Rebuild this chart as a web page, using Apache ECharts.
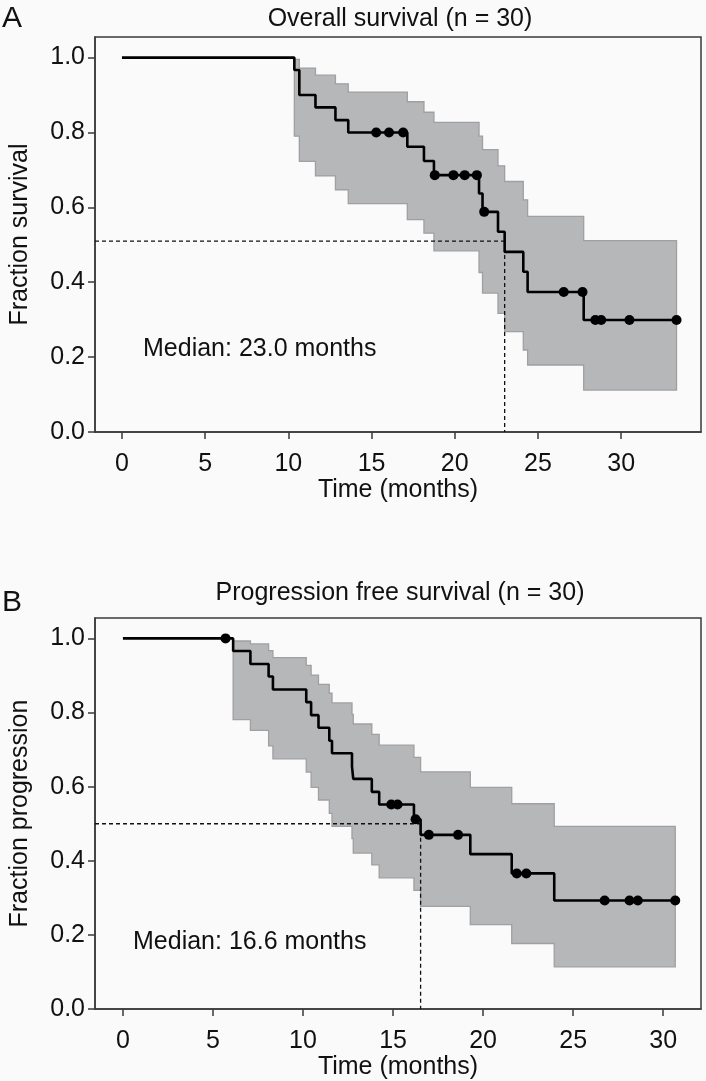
<!DOCTYPE html>
<html><head><meta charset="utf-8">
<script src="https://cdn.jsdelivr.net/npm/echarts@6/dist/echarts.min.js"></script>
<style>html,body{margin:0;padding:0;background:#fafafa;}#c{width:706px;height:1081px;}</style>
</head><body><div id="c"></div>
<script>
// ---------- Panel A: Overall survival ----------
const osTimes = [0, 10.36, 10.66, 11.63, 12.83, 13.6, 17.15, 18.15, 18.75, 21.46, 21.67, 22.6, 23.0, 24.12, 24.38, 27.75, 33.33];
const osSurv  = [1.0, 0.967, 0.900, 0.867, 0.833, 0.800, 0.762, 0.724, 0.686, 0.637, 0.588, 0.535, 0.481, 0.428, 0.374, 0.299, 0.299];
const osBandTimes = [10.36, 10.66, 11.63, 12.83, 13.6, 17.15, 18.15, 18.75, 21.46, 21.67, 22.6, 23.0, 24.12, 24.38, 27.75, 33.33];
const osUpper = [0.995, 0.972, 0.953, 0.930, 0.908, 0.882, 0.854, 0.827, 0.790, 0.754, 0.711, 0.669, 0.620, 0.576, 0.511, 0.511];
const osLower = [0.790, 0.723, 0.684, 0.647, 0.610, 0.567, 0.531, 0.484, 0.426, 0.371, 0.317, 0.268, 0.219, 0.179, 0.112, 0.112];
const osCensor = [15.28, 16.05, 16.9, 18.8, 19.92, 20.6, 21.33, 21.77, 26.55, 27.68, 28.45, 28.8, 30.5, 33.33];
const osMedian = 23.0, osMedianLevel = 0.51;

// ---------- Panel B: Progression free survival ----------
const pfsTimes = [0, 6.12, 7.08, 8.09, 8.33, 10.18, 10.45, 10.86, 11.46, 11.61, 12.72, 12.79, 13.82, 14.23, 16.16, 16.53, 19.29, 21.59, 23.95, 30.67];
const pfsSurv  = [1.0, 0.966, 0.931, 0.897, 0.862, 0.828, 0.793, 0.759, 0.724, 0.690, 0.655, 0.621, 0.586, 0.552, 0.512, 0.470, 0.418, 0.366, 0.293, 0.293];
const pfsBandTimes = [6.12, 7.08, 8.09, 8.33, 10.18, 10.45, 10.86, 11.46, 11.61, 12.72, 12.79, 13.82, 14.23, 16.16, 16.53, 19.29, 21.59, 23.95, 30.67];
const pfsUpper = [0.993, 0.985, 0.967, 0.948, 0.927, 0.901, 0.876, 0.852, 0.826, 0.795, 0.769, 0.741, 0.712, 0.679, 0.640, 0.598, 0.554, 0.493, 0.493];
const pfsLower = [0.781, 0.752, 0.710, 0.675, 0.639, 0.598, 0.564, 0.528, 0.493, 0.460, 0.421, 0.389, 0.354, 0.320, 0.277, 0.228, 0.177, 0.114, 0.114];
const pfsCensor = [5.7, 14.9, 15.25, 16.25, 16.99, 18.61, 21.87, 22.4, 26.75, 28.13, 28.59, 30.67];
const pfsMedian = 16.53, pfsMedianLevel = 0.5;

const xTicks = [0, 5, 10, 15, 20, 25, 30];
const yTicks = [0, 0.2, 0.4, 0.6, 0.8, 1.0];
const xRangeA = [-1.62, 34.8];
const xRangeB = [-1.55, 32.1];
const yMax = 1.055;

const FONT = '"Liberation Sans", Arial, sans-serif';
const AX = '#3a3a3a';
const BAND = '#b6b7b9';
const BANDEDGE = '#a0a0a2';

function zip(a, b) { return a.map((v, i) => [v, b[i]]); }
function stepAt(times, surv, t) { let v = surv[0]; for (let i = 0; i < times.length; i++) { if (times[i] <= t) v = surv[i]; } return v; }

function axes(gi, xr, yName) {
  return {
    x: {
      gridIndex: gi, type: 'value', min: xr[0], max: xr[1],
      axisLine: { show: true, onZero: false, lineStyle: { color: AX, width: 1.5 } },
      axisTick: { show: true, length: 7, customValues: xTicks, lineStyle: { color: AX, width: 1.5 } },
      axisLabel: { customValues: xTicks, fontSize: 25, color: '#111', margin: 20, fontFamily: FONT },
      splitLine: { show: false },
      name: 'Time (months)', nameLocation: 'middle', nameGap: 44,
      nameTextStyle: { fontSize: 25, color: '#111', fontFamily: FONT }
    },
    y: {
      gridIndex: gi, type: 'value', min: 0, max: yMax,
      axisLine: { show: true, onZero: false, lineStyle: { color: AX, width: 1.5 } },
      axisTick: { show: true, length: 7, customValues: yTicks, lineStyle: { color: AX, width: 1.5 } },
      axisLabel: { customValues: yTicks, fontSize: 25, color: '#111', margin: 10, fontFamily: FONT, formatter: v => v.toFixed(1) },
      splitLine: { show: false },
      name: yName, nameLocation: 'middle', nameGap: 62,
      nameTextStyle: { fontSize: 25, color: '#111', fontFamily: FONT }
    }
  };
}

function bandSeries(gi, bandTimes, upper, lower) {
  return {
    type: 'custom', xAxisIndex: gi, yAxisIndex: gi, silent: true, z: 1, clip: true,
    data: bandTimes.map((t, i) => [t, lower[i], upper[i]]),
    encode: { x: 0, y: [1, 2] },
    renderItem: function (params, api) {
      if (params.dataIndex !== 0) return null;
      const n = bandTimes.length;
      const pts = [];
      pts.push(api.coord([bandTimes[0], lower[0]]));
      pts.push(api.coord([bandTimes[0], upper[0]]));
      for (let i = 1; i < n; i++) {
        pts.push(api.coord([bandTimes[i], upper[i - 1]]));
        pts.push(api.coord([bandTimes[i], upper[i]]));
      }
      pts.push(api.coord([bandTimes[n - 1], lower[n - 1]]));
      for (let i = n - 1; i >= 1; i--) {
        pts.push(api.coord([bandTimes[i], lower[i - 1]]));
        pts.push(api.coord([bandTimes[i - 1], lower[i - 1]]));
      }
      return { type: 'polygon', shape: { points: pts }, style: { fill: BAND, stroke: BANDEDGE, lineWidth: 1.3 } };
    }
  };
}

function panelSeries(gi, times, surv, bandTimes, upper, lower, censor, med, medLevel, xmin) {
  return [
    bandSeries(gi, bandTimes, upper, lower),
    { type: 'line', xAxisIndex: gi, yAxisIndex: gi, symbol: 'none', silent: true,
      data: [[xmin, medLevel], [med, medLevel]], lineStyle: { color: '#111', width: 1.3, type: [4, 3] }, z: 2 },
    { type: 'line', xAxisIndex: gi, yAxisIndex: gi, symbol: 'none', silent: true,
      data: [[med, medLevel], [med, 0]], lineStyle: { color: '#111', width: 1.3, type: [4, 3] }, z: 2 },
    { type: 'line', xAxisIndex: gi, yAxisIndex: gi, step: 'end', symbol: 'none', silent: true,
      data: zip(times, surv), lineStyle: { color: '#000', width: 2.6 }, z: 3 },
    { type: 'scatter', xAxisIndex: gi, yAxisIndex: gi, symbol: 'circle', symbolSize: 10, silent: true,
      data: censor.map(t => [t, stepAt(times, surv, t)]), itemStyle: { color: '#000', opacity: 1 }, z: 4 }
  ];
}

const aA = axes(0, xRangeA, 'Fraction survival');
const aB = axes(1, xRangeB, 'Fraction progression');

const chart = echarts.init(document.getElementById('c'), null, { renderer: 'canvas' });
chart.setOption({
  backgroundColor: '#fafafa',
  animation: false,
  grid: [
    { left: 95, right: 5, top: 37, height: 395, show: true, borderColor: AX, borderWidth: 1.5, backgroundColor: 'transparent' },
    { left: 95, right: 5, top: 618, height: 396, show: true, borderColor: AX, borderWidth: 1.5, backgroundColor: 'transparent' }
  ],
  xAxis: [aA.x, aB.x],
  yAxis: [aA.y, aB.y],
  graphic: [
    { type: 'text', left: 2, top: 4, style: { text: 'A', fontSize: 30, fill: '#111', fontFamily: FONT } },
    { type: 'text', left: 2, top: 588, style: { text: 'B', fontSize: 30, fill: '#111', fontFamily: FONT } },
    { type: 'text', x: 400, y: 19, style: { text: 'Overall survival (n = 30)', fontSize: 25, fill: '#111', fontFamily: FONT, align: 'center', verticalAlign: 'middle' } },
    { type: 'text', x: 400, y: 593, style: { text: 'Progression free survival (n = 30)', fontSize: 25, fill: '#111', fontFamily: FONT, align: 'center', verticalAlign: 'middle' } },
    { type: 'text', x: 143, y: 349, style: { text: 'Median: 23.0 months', fontSize: 25, fill: '#111', fontFamily: FONT, align: 'left', verticalAlign: 'middle' } },
    { type: 'text', x: 133, y: 942, style: { text: 'Median: 16.6 months', fontSize: 25, fill: '#111', fontFamily: FONT, align: 'left', verticalAlign: 'middle' } }
  ],
  series: [
    ...panelSeries(0, osTimes, osSurv, osBandTimes, osUpper, osLower, osCensor, osMedian, osMedianLevel, xRangeA[0]),
    ...panelSeries(1, pfsTimes, pfsSurv, pfsBandTimes, pfsUpper, pfsLower, pfsCensor, pfsMedian, pfsMedianLevel, xRangeB[0])
  ]
});
</script></body></html>
